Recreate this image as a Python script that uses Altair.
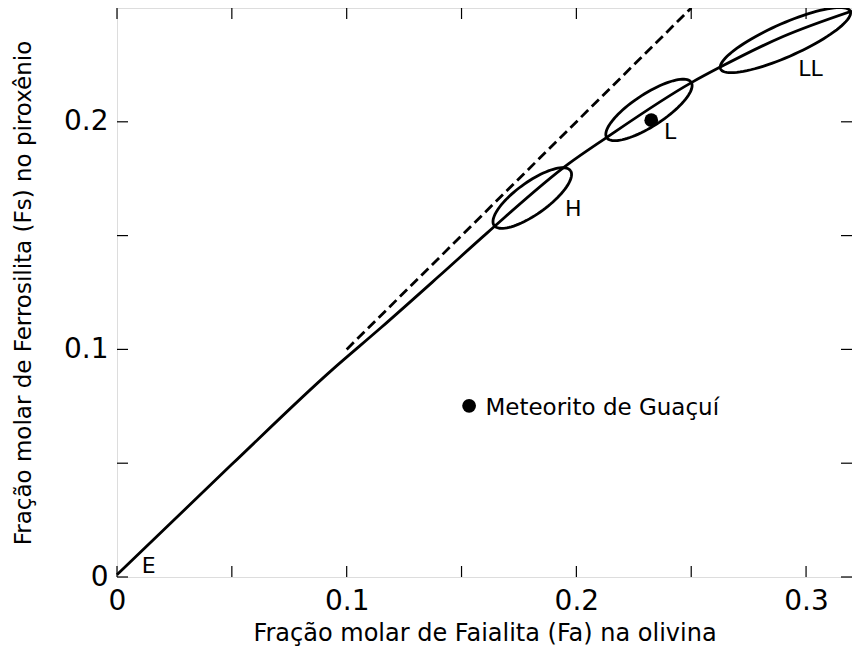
import altair as alt
import pandas as pd
import numpy as np

# Main trend line (Fa vs Fs)
curve_x = [0.0, 0.05, 0.0934, 0.115, 0.14, 0.1613, 0.1967, 0.2123, 0.2499, 0.262, 0.29, 0.32]
curve_y = [0.001, 0.0495, 0.0908, 0.1096, 0.132, 0.1513, 0.1816, 0.1925, 0.2171, 0.2237, 0.2375, 0.2487]

# Dashed 1:1 line
dash_x = [0.1, 0.25]
dash_y = [0.1, 0.25]

# Ellipses: centre (data units), semi-axes (px) and tilt (deg)
ell_name = ["H", "L", "LL"]
ell_cx = [0.1808, 0.2316, 0.2910]
ell_cy = [0.1665, 0.2052, 0.2359]
ell_a = [47.0, 50.5, 71.0]
ell_b = [16.0, 16.0, 16.5]
ell_deg = [35.7, 33.2, 24.0]

# Points
pt_x = [0.1533, 0.2326]
pt_y = [0.0752, 0.2007]

# Labels
lab_text = ["E", "H", "L", "LL", "Meteorito de Guaçuí"]
lab_x = [0.0108, 0.1950, 0.2382, 0.2966, 0.1604]
lab_y = [0.0048, 0.1618, 0.1956, 0.2232, 0.0741]
lab_size = [22, 22, 22, 22, 23]

# Ticks
x_ticks = [0.0, 0.05, 0.1, 0.15, 0.2, 0.25, 0.3]
y_ticks = [0.0, 0.05, 0.1, 0.15, 0.2]
x_labels = [0.0, 0.1, 0.2, 0.3]
y_labels = [0.0, 0.1, 0.2]

X_MAX, Y_MAX = 0.32, 0.25
W, H = 735, 569
TICK = 11
FONT = "DejaVu Sans"

xs = alt.Scale(domain=[0, X_MAX], nice=False, zero=False)
ys = alt.Scale(domain=[0, Y_MAX], nice=False, zero=False)

label_expr = "datum.value == 0 ? '0' : format(datum.value, '.1f')"
xaxis = alt.Axis(values=x_labels, ticks=False, domain=False, grid=False, labelExpr=label_expr,
                 title="Fração molar de Faialita (Fa) na olivina", labelPadding=10, labelFlush=False,
                 labelFontSize=28, titleFontSize=24, titleFontWeight="normal",
                 titleY=56, titleBaseline="middle", labelFont=FONT, titleFont=FONT,
                 labelColor="black", titleColor="black")
yaxis = alt.Axis(values=y_labels, ticks=False, domain=False, grid=False, labelExpr=label_expr,
                 title="Fração molar de Ferrosilita (Fs) no piroxênio", labelPadding=9, labelFlush=False,
                 labelFontSize=28, titleFontSize=23, titleFontWeight="normal",
                 titleX=-94, titleBaseline="middle", labelFont=FONT, titleFont=FONT,
                 labelColor="black", titleColor="black")

curve_df = pd.DataFrame({"x": curve_x, "y": curve_y})
dash_df = pd.DataFrame({"x": dash_x, "y": dash_y})

# ellipse outlines built from their read centre / axes / tilt
kx, ky = X_MAX / W, Y_MAX / H
t = np.linspace(0, 2 * np.pi, 91)
ell_rows = []
for name, cx, cy, a, b, d in zip(ell_name, ell_cx, ell_cy, ell_a, ell_b, ell_deg):
    th = np.radians(d)
    dx = a * np.cos(th) * np.cos(t) - b * np.sin(th) * np.sin(t)
    dy = a * np.sin(th) * np.cos(t) + b * np.cos(th) * np.sin(t)
    for i in range(len(t)):
        ell_rows.append({"g": name, "i": i, "x": cx + dx[i] * kx, "y": cy + dy[i] * ky})
ell_df = pd.DataFrame(ell_rows)

pt_df = pd.DataFrame({"x": pt_x, "y": pt_y})
lab_df = pd.DataFrame({"t": lab_text, "x": lab_x, "y": lab_y, "s": lab_size})
xt_df = pd.DataFrame({"v": x_ticks})
yt_df = pd.DataFrame({"v": y_ticks})

main = alt.Chart(curve_df).mark_line(color="black", strokeWidth=2.8, interpolate="monotone").encode(
    x=alt.X("x:Q", scale=xs, axis=xaxis),
    y=alt.Y("y:Q", scale=ys, axis=yaxis),
)

dashed = alt.Chart(dash_df).mark_line(color="black", strokeWidth=2.8, strokeDash=[10, 5]).encode(
    x=alt.X("x:Q", scale=xs), y=alt.Y("y:Q", scale=ys))

ellipses = alt.Chart(ell_df).mark_line(color="black", strokeWidth=2.8, clip=False).encode(
    x=alt.X("x:Q", scale=xs), y=alt.Y("y:Q", scale=ys), detail="g:N", order="i:Q")

points = alt.Chart(pt_df).mark_point(filled=True, color="black", size=190, opacity=1).encode(
    x=alt.X("x:Q", scale=xs), y=alt.Y("y:Q", scale=ys))

labels = alt.Chart(lab_df).mark_text(align="left", baseline="middle", font=FONT,
                                     color="black").encode(
    x=alt.X("x:Q", scale=xs), y=alt.Y("y:Q", scale=ys), text="t:N",
    size=alt.Size("s:Q", scale=None, legend=None))

bt = alt.Chart(xt_df).mark_rule(color="black", strokeWidth=1.2).encode(
    x=alt.X("v:Q", scale=xs), y=alt.value(H), y2=alt.value(H - TICK))
tt = alt.Chart(xt_df).mark_rule(color="black", strokeWidth=1.2).encode(
    x=alt.X("v:Q", scale=xs), y=alt.value(0), y2=alt.value(TICK))
lt = alt.Chart(yt_df).mark_rule(color="black", strokeWidth=1.2).encode(
    y=alt.Y("v:Q", scale=ys), x=alt.value(0), x2=alt.value(TICK))
rt = alt.Chart(yt_df).mark_rule(color="black", strokeWidth=1.2).encode(
    y=alt.Y("v:Q", scale=ys), x=alt.value(W), x2=alt.value(W - TICK))

chart = alt.layer(main, dashed, ellipses, points, labels, bt, tt, lt, rt).properties(
    width=W, height=H,
    autosize=alt.AutoSizeParams(type="none"),
    padding={"left": 109, "top": 0, "right": 0, "bottom": 69},
).configure_view(stroke="black", strokeWidth=1.3).configure(background="white")

chart.save("out.html", embed_options={"renderer": "svg", "actions": False})
